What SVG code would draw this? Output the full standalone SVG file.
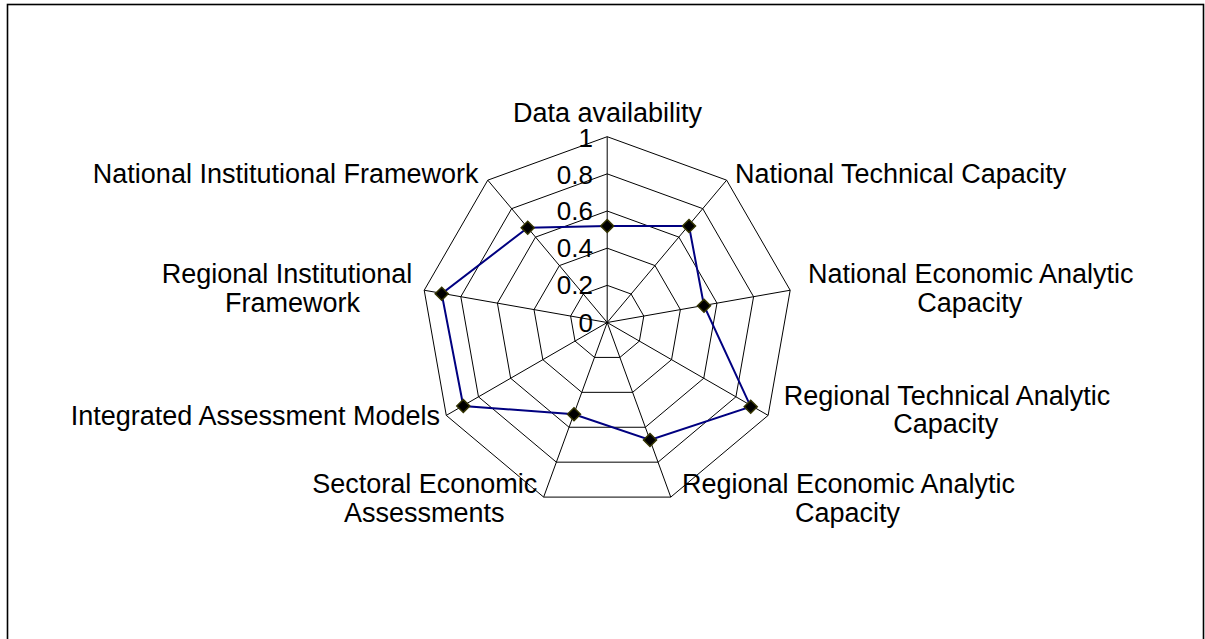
<svg xmlns="http://www.w3.org/2000/svg" width="1205" height="639" viewBox="0 0 1205 639">
<style>
.grid{fill:none;stroke:#000;stroke-width:1}
.lbl{font-family:"Liberation Sans",Arial,sans-serif;font-size:27px;fill:#000}
.tick{font-family:"Liberation Sans",Arial,sans-serif;font-size:26px;fill:#000;text-anchor:end}
.series{fill:none;stroke:#000080;stroke-width:2}
.mk{fill:#000;stroke:#333300;stroke-width:1.5}
</style>
<defs>
<path id="dm" d="M0,-6.5 L6.5,0 L0,6.5 L-6.5,0 Z"/>
</defs>
<rect x="0" y="0" width="1205" height="639" fill="#fff"/>
<rect x="7.5" y="4.5" width="1196" height="660" fill="none" stroke="#000" stroke-width="1.6"/>
<g id="grid">
<polygon class="grid" points="607.2,136.7 726.63,180.17 790.18,290.24 768.11,415.4 670.75,497.1 543.65,497.1 446.29,415.4 424.22,290.24 487.77,180.17"/>
<polygon class="grid" points="607.2,173.86 702.74,208.64 753.58,296.69 735.92,396.82 658.04,462.17 556.36,462.17 478.48,396.82 460.82,296.69 511.66,208.64"/>
<polygon class="grid" points="607.2,211.02 678.86,237.1 716.99,303.14 703.75,378.24 645.33,427.26 569.07,427.26 510.65,378.24 497.41,303.14 535.54,237.1"/>
<polygon class="grid" points="607.2,248.18 654.97,265.57 680.39,309.59 671.56,359.66 632.62,392.34 581.78,392.34 542.84,359.66 534.01,309.59 559.43,265.57"/>
<polygon class="grid" points="607.2,285.34 631.09,294.03 643.8,316.05 639.38,341.08 619.91,357.42 594.49,357.42 575.02,341.08 570.6,316.05 583.31,294.03"/>
<path class="grid" d="M607.2,322.5 L607.2,136.7 M607.2,322.5 L726.63,180.17 M607.2,322.5 L790.18,290.24 M607.2,322.5 L768.11,415.4 M607.2,322.5 L670.75,497.1 M607.2,322.5 L543.65,497.1 M607.2,322.5 L446.29,415.4 M607.2,322.5 L424.22,290.24 M607.2,322.5 L487.77,180.17"/>
</g>
<g id="ticks">
<text class="tick" x="593" y="146.5">1</text>
<text class="tick" x="593" y="183.5">0.8</text>
<text class="tick" x="593" y="220">0.6</text>
<text class="tick" x="593" y="257">0.4</text>
<text class="tick" x="593" y="294">0.2</text>
<text class="tick" x="593" y="331.5">0</text>
</g>
<g id="series">
<polygon class="series" points="607.2,226 689,226 704,305.7 750.7,406.7 650,440 574,414.3 463.3,406 441.7,293.7 527.7,227.7"/>
<use href="#dm" class="mk" x="607.2" y="226"/>
<use href="#dm" class="mk" x="689" y="226"/>
<use href="#dm" class="mk" x="704" y="305.7"/>
<use href="#dm" class="mk" x="750.7" y="406.7"/>
<use href="#dm" class="mk" x="650" y="440"/>
<use href="#dm" class="mk" x="574" y="414.3"/>
<use href="#dm" class="mk" x="463.3" y="406"/>
<use href="#dm" class="mk" x="441.7" y="293.7"/>
<use href="#dm" class="mk" x="527.7" y="227.7"/>
</g>
<g id="label-data-availability"><text class="lbl" x="607.5" y="121.5" text-anchor="middle">Data availability</text></g>
<g id="label-national-technical"><text class="lbl" x="735" y="183.3">National Technical Capacity</text></g>
<g id="label-national-economic"><text class="lbl" x="970.8" y="283.3" text-anchor="middle">National Economic Analytic</text><text class="lbl" x="969.7" y="311.7" text-anchor="middle">Capacity</text></g>
<g id="label-regional-technical"><text class="lbl" x="947" y="405" text-anchor="middle">Regional Technical Analytic</text><text class="lbl" x="945.8" y="433.3" text-anchor="middle">Capacity</text></g>
<g id="label-regional-economic"><text class="lbl" x="848.5" y="493.3" text-anchor="middle">Regional Economic Analytic</text><text class="lbl" x="847.5" y="521.7" text-anchor="middle">Capacity</text></g>
<g id="label-sectoral"><text class="lbl" x="424.7" y="493.3" text-anchor="middle">Sectoral Economic</text><text class="lbl" x="424.2" y="521.7" text-anchor="middle">Assessments</text></g>
<g id="label-integrated"><text class="lbl" x="440" y="425" text-anchor="end">Integrated Assessment Models</text></g>
<g id="label-regional-institutional"><text class="lbl" x="287" y="283.3" text-anchor="middle">Regional Institutional</text><text class="lbl" x="292.5" y="311.7" text-anchor="middle">Framework</text></g>
<g id="label-national-institutional"><text class="lbl" x="478.5" y="183.3" text-anchor="end">National Institutional Framework</text></g>
</svg>
